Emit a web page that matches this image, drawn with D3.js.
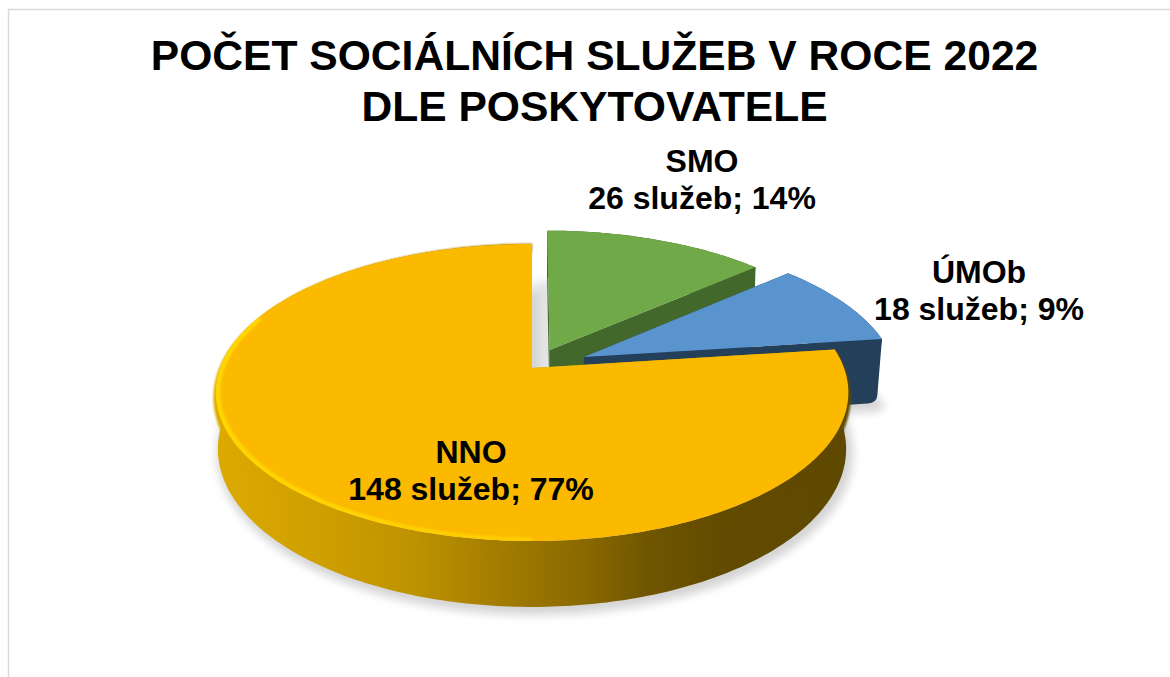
<!DOCTYPE html>
<html>
<head>
<meta charset="utf-8">
<title>Počet sociálních služeb</title>
<script src="https://cdn.jsdelivr.net/npm/d3@7"></script>
<style>
  html, body { margin: 0; padding: 0; background: #fff; }
  svg { display: block; }
  text { font-family: "Liberation Sans", Arial, sans-serif; font-weight: bold; fill: #000; text-anchor: middle; }
</style>
</head>
<body>
<div id="chart"></div>
<script>
// Data
var categories = ["SMO", "ÚMOb", "NNO"];
var services = [26, 18, 148];
var titleLines = ["POČET SOCIÁLNÍCH SLUŽEB V ROCE 2022", "DLE POSKYTOVATELE"];

// Canvas
var width = 1170, height = 677;

// Look of each slice (same order as categories)
var topColors = ["#6fa948", "#5a94cf", "#fbb900"];
var sideColors = ["#43682b", "#243f59", "#c49600"];
var explode = [0.14, 0.185, 0];
var depths = [55, 66, 55];
var shrinks = [0.993, 0.985, 0.993];
var labelPos = [[702, 172], [979, 283], [471, 463]];

// Scales of the tilted disc, unit circle -> screen
var x = d3.scaleLinear().domain([-1, 1]).range([220, 844]);
var y = d3.scaleLinear().domain([-1, 1]).range([223.5, 512.5]);
var persp = 0.165;

var svg = d3.select("#chart").append("svg")
    .attr("width", width)
    .attr("height", height);

var defs = svg.append("defs");

defs.append("filter")
    .attr("id", "shadow")
    .attr("x", "-20%").attr("y", "-20%")
    .attr("width", "140%").attr("height", "140%")
  .append("feGaussianBlur")
    .attr("stdDeviation", 5);

defs.append("filter")
    .attr("id", "soft")
    .attr("x", "-5%").attr("y", "-5%")
    .attr("width", "110%").attr("height", "110%")
  .append("feGaussianBlur")
    .attr("stdDeviation", 1.2);

// wall of the big slice goes dark from left to right
var wallGrad = defs.append("linearGradient")
    .attr("id", "wallGrad")
    .attr("gradientUnits", "userSpaceOnUse")
    .attr("x1", 216).attr("y1", 0)
    .attr("x2", 850).attr("y2", 0);
[[0, "#dcaa00"], [0.15, "#d0a000"], [0.3, "#c09400"], [0.45, "#a27c00"],
 [0.58, "#8a6900"], [0.68, "#705600"], [0.8, "#624b00"], [1, "#5f4900"]]
  .forEach(function(s) {
    wallGrad.append("stop").attr("offset", s[0]).attr("stop-color", s[1]);
  });

var rimGrad = defs.append("linearGradient")
    .attr("id", "rimGrad")
    .attr("gradientUnits", "userSpaceOnUse")
    .attr("x1", 216).attr("y1", 0)
    .attr("x2", 700).attr("y2", 0);
rimGrad.append("stop").attr("offset", 0).attr("stop-color", "#ffd800").attr("stop-opacity", 1);
rimGrad.append("stop").attr("offset", 0.75).attr("stop-color", "#ffd000").attr("stop-opacity", 0.8);
rimGrad.append("stop").attr("offset", 1).attr("stop-color", "#ffc800").attr("stop-opacity", 0);

// Frame
svg.append("path")
    .attr("d", "M8.5," + height + "V9.5H" + width)
    .attr("fill", "none")
    .attr("stroke", "#d9d9d9")
    .attr("stroke-width", 1.5);

// Project a point of the disc, drop = how far below the top face
function project(X, Y, drop, shrink) {
  var s = 1 / (1 - persp * Y);
  return [
    x(X * s * (shrink || 1)),
    y(Y * s) + (drop || 0) * s
  ];
}

var line = d3.line();

// Pie angles, 0 is north, clockwise
var pie = d3.pie().sort(null).value(function(d) { return d; });
var slices = pie(services);
var total = d3.sum(services);

function offset(d, i) {
  var mid = (d.startAngle + d.endAngle) / 2;
  return [Math.sin(mid) * explode[i], -Math.cos(mid) * explode[i]];
}

function arcPoints(d, i, drop, r) {
  var o = offset(d, i);
  var n = Math.ceil((d.endAngle - d.startAngle) * 60);
  return d3.range(n + 1).map(function(k) {
    var a = d.startAngle + (d.endAngle - d.startAngle) * k / n;
    return project(Math.sin(a) * (r || 1) + o[0], -Math.cos(a) * (r || 1) + o[1], drop, drop ? shrinks[i] : 1);
  });
}

function apex(d, i, drop) {
  var o = offset(d, i);
  return project(o[0], o[1], drop, drop ? shrinks[i] : 1);
}

function face(d, i, drop) {
  return line([apex(d, i, drop)].concat(arcPoints(d, i, drop))) + "Z";
}

// Cut face at the end of a slice, with a rounded lower corner
function endFace(d, i, upperEnd, corner) {
  var top = apex(d, i, 0), bottom = apex(d, i, depths[i]);
  var a = d3.interpolate(corner, upperEnd)(0.12);
  var b = d3.interpolate(corner, bottom)(0.03);
  var p = d3.path();
  p.moveTo(top[0], top[1]);
  p.lineTo(upperEnd[0], upperEnd[1]);
  p.lineTo(a[0], a[1]);
  p.quadraticCurveTo(corner[0], corner[1], b[0], b[1]);
  p.lineTo(bottom[0], bottom[1]);
  p.closePath();
  return p.toString();
}

// Shadow under every slice, the green one also falls into the gap on its left
svg.append("g")
    .attr("filter", "url(#shadow)")
    .attr("opacity", 0.17)
  .selectAll("path")
  .data(slices)
  .enter().append("path")
    .attr("d", function(d, i) { return face(d, i, depths[i]); })
    .attr("transform", function(d, i) { return i === 0 ? "translate(-8,14)" : "translate(3,4)"; })
    .attr("opacity", function(d, i) { return i === 0 ? 0.6 : 1; })
    .attr("fill", "#000")
    .attr("stroke", "#000")
    .attr("stroke-linejoin", "round")
    .attr("stroke-width", function(d, i) { return i === 0 ? 20 : 8; });

// Slices, back ones first
slices.forEach(function(d, i) {
  var g = svg.append("g").attr("class", "slice");
  var upper = arcPoints(d, i, 0);
  var lower = arcPoints(d, i, depths[i]);
  var isBig = i === slices.length - 1;
  var last = upper.length - 1;

  // outer wall, the small slices stop short of the rounded corner
  var wallLower = isBig ? lower : lower.slice(0, last - 1);
  g.append("path")
      .attr("d", line(upper.concat(wallLower.slice().reverse())) + "Z")
      .attr("fill", isBig ? "url(#wallGrad)" : sideColors[i]);

  // cut faces
  g.append("path")
      .attr("d", line([apex(d, i, 0), upper[0], lower[0], apex(d, i, depths[i])]) + "Z")
      .attr("fill", sideColors[i]);
  g.append("path")
      .attr("d", endFace(d, i, upper[last], lower[last]))
      .attr("fill", sideColors[i]);

  // soft edge between wall and top face of the big slice
  if (isBig) {
    g.append("path")
        .attr("d", line(arcPoints(d, i, 5)))
        .attr("fill", "none")
        .attr("stroke", "url(#wallGrad)")
        .attr("stroke-width", 9)
        .attr("filter", "url(#soft)");
  }

  g.append("path")
      .attr("d", face(d, i, 0))
      .attr("fill", topColors[i]);

  // bright rim along the front of the big slice, kept inside the top face
  if (isBig) {
    defs.append("clipPath")
        .attr("id", "topClip")
      .append("path")
        .attr("d", face(d, i, 0));
    var front = { startAngle: Math.PI, endAngle: 1.62 * Math.PI };
    g.append("g")
        .attr("clip-path", "url(#topClip)")
      .append("path")
        .attr("d", line(arcPoints(front, i, 0, 0.993)))
        .attr("fill", "none")
        .attr("stroke", "url(#rimGrad)")
        .attr("stroke-width", 5)
        .attr("filter", "url(#soft)");
  }
});

// Title
svg.append("g").selectAll("text")
    .data(titleLines)
    .enter().append("text")
    .attr("x", 594.5)
    .attr("y", function(d, i) { return 70 + i * 51; })
    .style("font-size", "42.6px")
    .text(function(d) { return d; });

// Data labels
var labels = svg.append("g").selectAll("g")
    .data(slices)
    .enter().append("g")
    .attr("transform", function(d, i) { return "translate(" + labelPos[i] + ")"; });

labels.append("text")
    .style("font-size", "32px")
    .text(function(d, i) { return categories[i]; });

labels.append("text")
    .attr("y", 37)
    .style("font-size", "32px")
    .text(function(d) { return d.value + " služeb; " + Math.round(d.value / total * 100) + "%"; });
</script>
</body>
</html>
